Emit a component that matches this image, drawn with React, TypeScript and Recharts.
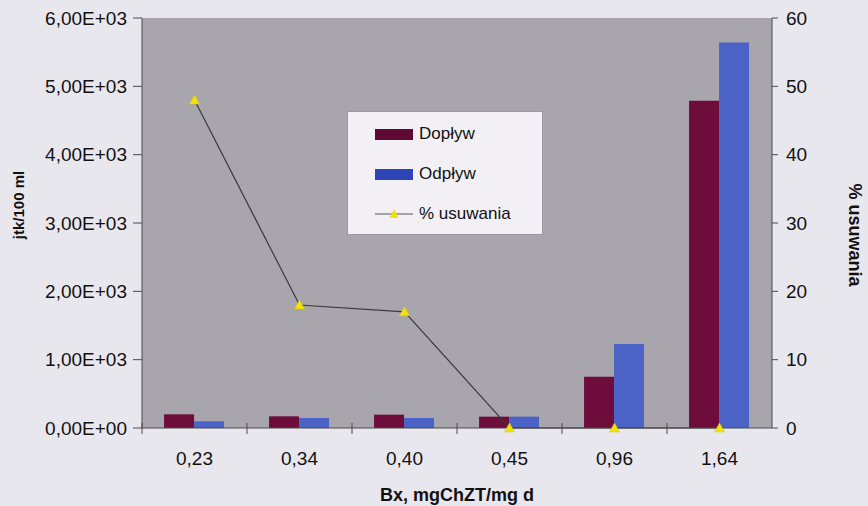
import React from 'react';
import {
  ComposedChart,
  Bar,
  Line,
  XAxis,
  YAxis,
  CartesianGrid,
  Legend,
} from 'recharts';

const categories = ['0,23', '0,34', '0,40', '0,45', '0,96', '1,64'];
const doplyw = [200, 171, 195, 166, 750, 4790];
const odplyw = [98, 146, 146, 166, 1230, 5640];
const usuwanie = [48, 18, 17, 0, 0, 0];
const leftTicks = [0, 1000, 2000, 3000, 4000, 5000, 6000];
const rightTicks = [0, 10, 20, 30, 40, 50, 60];

const data = categories.map((c, i) => ({
  bx: c,
  doplyw: doplyw[i],
  odplyw: odplyw[i],
  usuwanie: usuwanie[i],
}));

const FONT = '"Liberation Sans", Arial, sans-serif';
const MAROON = '#6e0c3c';
const BLUE = '#4b63c6';
const YELLOW = '#f2e40a';
const AXIS = '#4a4a4a';

const sci = (v: number) => {
  if (v === 0) return '0,00E+00';
  const e = Math.floor(Math.log10(Math.abs(v)));
  const m = v / Math.pow(10, e);
  const es = (e < 0 ? '-' : '+') + String(Math.abs(e)).padStart(2, '0');
  return m.toFixed(2).replace('.', ',') + 'E' + es;
};

const XTick = (props: any) => {
  const { x, y, payload } = props;
  const off = payload && typeof payload.offset === 'number' ? payload.offset : 0;
  return (
    <g>
      <line x1={x - off} x2={x - off} y1={y - 5} y2={y + 6} stroke={AXIS} strokeWidth={1} />
      <text
        x={x}
        y={y + 30}
        textAnchor="middle"
        dominantBaseline="central"
        fontSize={19}
        fontFamily={FONT}
        fill="#111"
      >
        {payload.value}
      </text>
    </g>
  );
};

const Triangle = (props: any) => {
  const { cx, cy, index } = props;
  if (cx == null || cy == null) return <g key={index} />;
  return (
    <polygon
      key={index}
      points={`${cx},${cy - 5} ${cx - 5},${cy + 4} ${cx + 5},${cy + 4}`}
      fill={YELLOW}
      stroke="#d8c800"
      strokeWidth={0.5}
    />
  );
};

const LegendBox = () => {
  const row: React.CSSProperties = {
    display: 'flex',
    alignItems: 'center',
    height: 40,
    fontFamily: FONT,
    fontSize: 17,
    color: '#111',
  };
  return (
    <div
      style={{
        width: 196,
        height: 124,
        background: '#f2f0f5',
        border: '1px solid #9a98a0',
        boxSizing: 'border-box',
        paddingTop: 2,
        paddingLeft: 27,
      }}
    >
      <div style={row}>
        <span style={{ display: 'inline-block', width: 38, height: 11, background: '#5e0a32', marginRight: 6 }} />
        Dopływ
      </div>
      <div style={row}>
        <span style={{ display: 'inline-block', width: 38, height: 11, background: '#2f44b6', marginRight: 6 }} />
        Odpływ
      </div>
      <div style={row}>
        <svg width={38} height={12} style={{ marginRight: 6 }}>
          <line x1={0} x2={38} y1={6} y2={6} stroke="#555" strokeWidth={1} />
          <polygon points="19,1 14.5,10 23.5,10" fill={YELLOW} />
        </svg>
        % usuwania
      </div>
    </div>
  );
};

export default function App() {
  return (
    <div
      style={{
        position: 'absolute',
        left: 0,
        top: 0,
        width: 868,
        height: 506,
        background: '#e9e7ee',
      }}
    >
      <ComposedChart
        width={868}
        height={506}
        data={data}
        margin={{ top: 18, right: 0, bottom: 0, left: 0 }}
        barCategoryGap="21%"
        barGap={0}
      >
        <CartesianGrid fill="#a9a5ad" horizontal={false} vertical={false} stroke="none" />
        <XAxis
          dataKey="bx"
          height={78}
          tickSize={0}
          tickMargin={0}
          tickLine={false}
          axisLine={{ stroke: AXIS }}
          tick={<XTick />}
          interval={0}
          label={{
            value: 'Bx, mgChZT/mg d',
            position: 'insideBottom',
            offset: 5,
            style: { fontFamily: FONT, fontSize: 18, fontWeight: 'bold', fill: '#111' },
          }}
        />
        <YAxis
          yAxisId="left"
          width={142}
          domain={[0, 6000]}
          ticks={leftTicks}
          tickFormatter={sci}
          tickSize={9}
          tickMargin={6}
          axisLine={{ stroke: AXIS }}
          tickLine={{ stroke: AXIS }}
          tick={{ fontFamily: FONT, fontSize: 19, fill: '#111' }}
          label={{
            content: (p: any) => {
              const vb = p.viewBox;
              const cx = vb.x + 18;
              const cy = vb.y + vb.height / 2 - 18;
              return (
                <text
                  x={cx}
                  y={cy}
                  transform={`rotate(-90 ${cx} ${cy})`}
                  textAnchor="middle"
                  dominantBaseline="central"
                  fontFamily={FONT}
                  fontSize={15}
                  fontWeight="bold"
                  fill="#111"
                >
                  jtk/100 ml
                </text>
              );
            },
          }}
        />
        <YAxis
          yAxisId="right"
          orientation="right"
          width={96}
          domain={[0, 60]}
          ticks={rightTicks}
          tickSize={6}
          tickMargin={8}
          axisLine={{ stroke: AXIS }}
          tickLine={{ stroke: AXIS }}
          tick={{ fontFamily: FONT, fontSize: 19, fill: '#111' }}
          label={{
            content: (p: any) => {
              const vb = p.viewBox;
              const cx = vb.x + 83;
              const cy = vb.y + vb.height / 2 + 12;
              return (
                <text
                  x={cx}
                  y={cy}
                  transform={`rotate(90 ${cx} ${cy})`}
                  textAnchor="middle"
                  dominantBaseline="central"
                  fontFamily={FONT}
                  fontSize={18}
                  fontWeight="bold"
                  fill="#111"
                >
                  % usuwania
                </text>
              );
            },
          }}
        />
        <Legend
          layout="vertical"
          align="center"
          verticalAlign="middle"
          wrapperStyle={{ left: 347, top: 111, width: 196, height: 124 }}
          content={<LegendBox />}
        />
        <Bar yAxisId="left" dataKey="doplyw" name="Dopływ" fill={MAROON} isAnimationActive={false} />
        <Bar yAxisId="left" dataKey="odplyw" name="Odpływ" fill={BLUE} isAnimationActive={false} />
        <Line
          yAxisId="right"
          dataKey="usuwanie"
          name="% usuwania"
          type="linear"
          stroke="#3a3a3a"
          strokeWidth={1.2}
          dot={<Triangle />}
          activeDot={false}
          isAnimationActive={false}
        />
      </ComposedChart>
    </div>
  );
}
